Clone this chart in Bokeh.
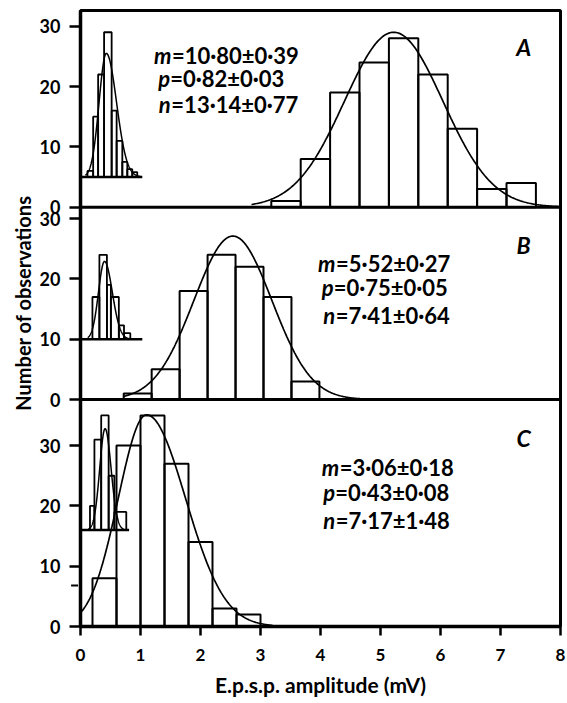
import numpy as np
from bokeh.plotting import figure
from bokeh.layouts import row
from bokeh.models import Range1d, FixedTicker, Label, Span, Arrow, NormalHead, ColumnDataSource
from bokeh.transform import dodge
from bokeh.embed import file_html
from bokeh.resources import INLINE

FONT = "Lato"

# ---------------- data ----------------
x_ticks = [0, 1, 2, 3, 4, 5, 6, 7, 8]
y_ticks = [0, 10, 20, 30]

# Panel A
a_bin_start, a_bin_width = 3.18, 0.49
a_counts = [1, 8, 19, 24, 28, 22, 13, 3, 4]
a_fit = dict(center=5.22, peak=29.0, sd_left=0.82, sd_right=0.82, x_from=2.85, x_to=8.0)
a_inset_edges = [0.116, 0.211, 0.294, 0.393, 0.519, 0.602, 0.697, 0.780, 0.863, 0.946]
a_inset_tops = [6, 15, 22, 29, 16, 11, 7.5, 6.3, 5.8]
a_inset_base, a_inset_base_end = 5, 1.03
a_inset_fit = dict(center=0.43, peak=20.5, sd_left=0.12, sd_right=0.17, x_from=0.08, x_to=1.0)
a_stats = ["m", "=10·80±0·39", "p", "=0·82±0·03", "n", "=13·14±0·77"]

# Panel B
b_bin_start, b_bin_width = 0.72, 0.466
b_counts = [1, 5, 18, 24, 22, 17, 3]
b_fit = dict(center=2.54, peak=27.1, sd_left=0.65, sd_right=0.65, x_from=0.72, x_to=5.0)
b_inset_edges = [0.199, 0.315, 0.44, 0.506, 0.639, 0.725, 0.83]
b_inset_tops = [17, 24, 19, 17, 12.3, 11]
b_inset_base, b_inset_base_end = 10, 1.03
b_inset_fit = dict(center=0.40, peak=12.9, sd_left=0.10, sd_right=0.13, x_from=0.12, x_to=0.95)
b_stats = ["m", "=5·52±0·27", "p", "=0·75±0·05", "n", "=7·41±0·64"]

# Panel C
c_bin_start, c_bin_width = 0.2, 0.4
c_counts = [8, 30, 35, 27, 14, 3, 2]
c_fit = dict(center=1.10, peak=35.1, sd_left=0.47, sd_right=0.65, x_from=0.0, x_to=3.2)
c_inset_edges = [0.158, 0.232, 0.345, 0.469, 0.564, 0.763]
c_inset_tops = [20, 31, 35, 25, 19]
c_inset_base, c_inset_base_end = 16, 0.81
c_inset_fit = dict(center=0.41, peak=16.8, sd_left=0.09, sd_right=0.10, x_from=0.13, x_to=0.72)
c_stats = ["m", "=3·06±0·18", "p", "=0·43±0·08", "n", "=7·17±1·48"]
c_arrow_y = 6.8

panel_letters = ["A", "B", "C"]

# ---------------- layout constants ----------------
OFF_C, OFF_B, OFF_A = 0.0, 37.64, 69.54
Y_END = 102.15
H = 702


def split_gauss(fit, n=300):
    x = np.linspace(fit["x_from"], fit["x_to"], n)
    sd = np.where(x < fit["center"], fit["sd_left"], fit["sd_right"])
    y = fit["peak"] * np.exp(-0.5 * ((x - fit["center"]) / sd) ** 2)
    return x, y


main = figure(width=531, height=H, x_range=Range1d(0, 8), y_range=Range1d(0, Y_END),
              output_backend="svg", toolbar_location=None,
              min_border_left=42, min_border_right=7, min_border_top=10, min_border_bottom=76)
main.grid.visible = False
main.outline_line_color = "black"
main.outline_line_width = 3
main.background_fill_color = "white"
main.border_fill_color = "white"

# y axis
ya = main.yaxis[0]
tick_pos, tick_lab = [], {}
for off in (OFF_C, OFF_B, OFF_A):
    for t in y_ticks:
        v = round(off + t, 3)
        tick_pos.append(v)
        tick_lab[v] = str(t)
ya.ticker = FixedTicker(ticks=tick_pos)
ya.major_label_overrides = tick_lab
ya.axis_line_width = 3.5
ya.major_tick_line_width = 2.5
ya.major_tick_out = 11
ya.major_tick_in = 0
ya.minor_tick_line_color = None
ya.major_label_text_font = FONT
ya.major_label_text_font_style = "bold"
ya.major_label_text_font_size = "18px"
ya.major_label_text_color = "black"
ya.major_label_standoff = 9

# x axis
xa = main.xaxis[0]
xa.ticker = FixedTicker(ticks=x_ticks)
xa.axis_line_width = 3.5
xa.major_tick_line_width = 2.5
xa.major_tick_out = 9
xa.major_tick_in = 0
xa.minor_tick_line_color = None
xa.major_label_text_font = FONT
xa.major_label_text_font_style = "bold"
xa.major_label_text_font_size = "17px"
xa.major_label_text_color = "black"
xa.major_label_standoff = 13
xa.axis_label = "E.p.s.p. amplitude (mV)"
xa.axis_label_text_font = FONT
xa.axis_label_text_font_style = "bold"
xa.axis_label_text_font_size = "21px"
xa.axis_label_text_color = "black"
xa.axis_label_standoff = 8

# panel separators
for off in (OFF_B, OFF_A):
    main.add_layout(Span(location=off, dimension="width", line_color="black", line_width=3))

panels = [
    (OFF_A, a_bin_start, a_bin_width, a_counts, a_fit, a_inset_edges, a_inset_tops,
     a_inset_base, a_inset_base_end, a_inset_fit),
    (OFF_B, b_bin_start, b_bin_width, b_counts, b_fit, b_inset_edges, b_inset_tops,
     b_inset_base, b_inset_base_end, b_inset_fit),
    (OFF_C, c_bin_start, c_bin_width, c_counts, c_fit, c_inset_edges, c_inset_tops,
     c_inset_base, c_inset_base_end, c_inset_fit),
]

for (off, bstart, bwidth, counts, fit, iedges, itops, ibase, ibase_end, ifit) in panels:
    lefts = [bstart + i * bwidth for i in range(len(counts))]
    rights = [l + bwidth for l in lefts]
    src = ColumnDataSource(dict(left=lefts, right=rights, top=counts))
    main.quad(left="left", right="right", top=dodge("top", off), bottom=off, source=src,
              fill_color=None, line_color="black", line_width=2)
    isrc = ColumnDataSource(dict(left=iedges[:-1], right=iedges[1:], top=itops))
    main.quad(left="left", right="right", top=dodge("top", off), bottom=off + ibase, source=isrc,
              fill_color=None, line_color="black", line_width=1.8)
    bsrc = ColumnDataSource(dict(x=[0, ibase_end], y=[ibase, ibase]))
    main.line(x="x", y=dodge("y", off), source=bsrc, line_color="black", line_width=2.5)
    fx, fy = split_gauss(fit)
    main.line(x=fx, y=fy + off, line_color="black", line_width=1.7)
    gx, gy = split_gauss(ifit)
    main.line(x=gx, y=gy + off + ibase, line_color="black", line_width=1.5)

# statistics texts
stat_pos = [
    (OFF_A, a_stats, [(1.223, 25.2, 18), (1.295, 21.3, 12), (1.306, 17.1, 12.5)]),
    (OFF_B, b_stats, [(3.96, 22.5, 18), (4.02, 18.6, 12), (4.045, 13.9, 12.5)]),
    (OFF_C, c_stats, [(4.02, 26.4, 18), (4.045, 22.2, 12), (4.045, 17.5, 12.5)]),
]
for off, stats, pos in stat_pos:
    for k, (x, y, dx) in enumerate(pos):
        main.add_layout(Label(x=x, y=off + y, text=stats[2 * k], text_font=FONT,
                              text_font_style="bold italic", text_font_size="22px",
                              text_color="black", text_baseline="alphabetic"))
        main.add_layout(Label(x=x, y=off + y, x_offset=dx, text=stats[2 * k + 1], text_font=FONT,
                              text_font_style="bold", text_font_size="22px",
                              text_color="black", text_baseline="alphabetic"))

for letter, off, y in zip(panel_letters, (OFF_A, OFF_B, OFF_C), (26.5, 25.6, 31.3)):
    main.add_layout(Label(x=7.386, y=off + y, text=letter, text_font=FONT,
                          text_font_style="bold italic", text_font_size="23px",
                          text_color="black", text_align="center", text_baseline="alphabetic"))

main.add_layout(Arrow(end=NormalHead(size=7, fill_color="black", line_color="black"),
                      x_start=-0.2, y_start=OFF_C + c_arrow_y, x_end=-0.04, y_end=OFF_C + c_arrow_y,
                      line_color="black", line_width=2))

# y-axis title figure
ylab = figure(width=36, height=H, x_range=Range1d(0, 36), y_range=Range1d(0, H),
              output_backend="svg", toolbar_location=None, min_border=0,
              x_axis_location=None, y_axis_location=None)
ylab.grid.visible = False
ylab.outline_line_color = None
ylab.add_layout(Label(x=22, y=H - 333.3, text="Number of observations", angle=np.pi / 2,
                      text_font=FONT, text_font_style="bold", text_font_size="20px",
                      text_color="black", text_align="center", text_baseline="alphabetic"))

layout = row(ylab, main)
open("out.html", "w").write(file_html(layout, INLINE))
